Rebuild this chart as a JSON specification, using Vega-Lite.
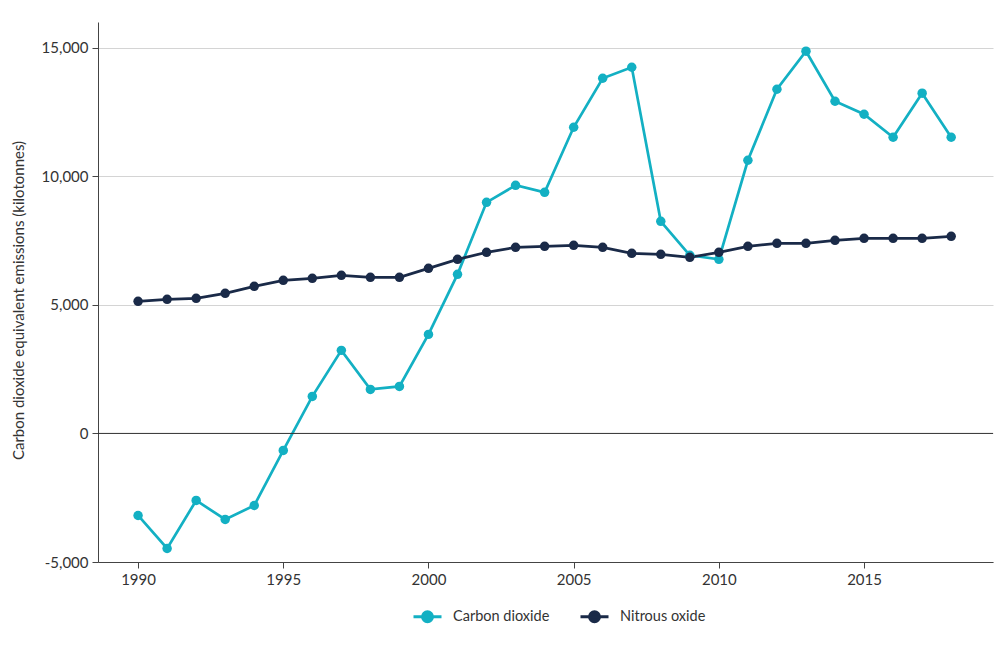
{
  "$schema": "https://vega.github.io/schema/vega-lite/v6.json",
  "width": 895,
  "height": 540,
  "autosize": {"type": "none"},
  "padding": {"left": 98, "top": 22, "right": 12, "bottom": 85},
  "background": "white",
  "config": {
    "font": "Lato",
    "view": {"stroke": null},
    "axis": {"labelFont": "Lato", "titleFont": "Lato", "labelColor": "#333", "titleColor": "#333", "labelFontSize": 15, "titleFontSize": 15, "titleFontWeight": "normal", "domainColor": "#444", "tickColor": "#444", "gridColor": "#d4d4d4"}
  },
  "datasets": {"emissions": [
    {"year": 1990, "gas": "Carbon dioxide", "value": -3191},
    {"year": 1991, "gas": "Carbon dioxide", "value": -4475},
    {"year": 1992, "gas": "Carbon dioxide", "value": -2607},
    {"year": 1993, "gas": "Carbon dioxide", "value": -3346},
    {"year": 1994, "gas": "Carbon dioxide", "value": -2802},
    {"year": 1995, "gas": "Carbon dioxide", "value": -661},
    {"year": 1996, "gas": "Carbon dioxide", "value": 1440},
    {"year": 1997, "gas": "Carbon dioxide", "value": 3230},
    {"year": 1998, "gas": "Carbon dioxide", "value": 1712},
    {"year": 1999, "gas": "Carbon dioxide", "value": 1829},
    {"year": 2000, "gas": "Carbon dioxide", "value": 3852},
    {"year": 2001, "gas": "Carbon dioxide", "value": 6187},
    {"year": 2002, "gas": "Carbon dioxide", "value": 8988},
    {"year": 2003, "gas": "Carbon dioxide", "value": 9650},
    {"year": 2004, "gas": "Carbon dioxide", "value": 9377},
    {"year": 2005, "gas": "Carbon dioxide", "value": 11907},
    {"year": 2006, "gas": "Carbon dioxide", "value": 13813},
    {"year": 2007, "gas": "Carbon dioxide", "value": 14241},
    {"year": 2008, "gas": "Carbon dioxide", "value": 8249},
    {"year": 2009, "gas": "Carbon dioxide", "value": 6926},
    {"year": 2010, "gas": "Carbon dioxide", "value": 6770},
    {"year": 2011, "gas": "Carbon dioxide", "value": 10623},
    {"year": 2012, "gas": "Carbon dioxide", "value": 13385},
    {"year": 2013, "gas": "Carbon dioxide", "value": 14864},
    {"year": 2014, "gas": "Carbon dioxide", "value": 12918},
    {"year": 2015, "gas": "Carbon dioxide", "value": 12412},
    {"year": 2016, "gas": "Carbon dioxide", "value": 11518},
    {"year": 2017, "gas": "Carbon dioxide", "value": 13230},
    {"year": 2018, "gas": "Carbon dioxide", "value": 11518},
    {"year": 1990, "gas": "Nitrous oxide", "value": 5136},
    {"year": 1991, "gas": "Nitrous oxide", "value": 5214},
    {"year": 1992, "gas": "Nitrous oxide", "value": 5253},
    {"year": 1993, "gas": "Nitrous oxide", "value": 5447},
    {"year": 1994, "gas": "Nitrous oxide", "value": 5720},
    {"year": 1995, "gas": "Nitrous oxide", "value": 5953},
    {"year": 1996, "gas": "Nitrous oxide", "value": 6031},
    {"year": 1997, "gas": "Nitrous oxide", "value": 6148},
    {"year": 1998, "gas": "Nitrous oxide", "value": 6070},
    {"year": 1999, "gas": "Nitrous oxide", "value": 6070},
    {"year": 2000, "gas": "Nitrous oxide", "value": 6420},
    {"year": 2001, "gas": "Nitrous oxide", "value": 6770},
    {"year": 2002, "gas": "Nitrous oxide", "value": 7043},
    {"year": 2003, "gas": "Nitrous oxide", "value": 7237},
    {"year": 2004, "gas": "Nitrous oxide", "value": 7276},
    {"year": 2005, "gas": "Nitrous oxide", "value": 7315},
    {"year": 2006, "gas": "Nitrous oxide", "value": 7237},
    {"year": 2007, "gas": "Nitrous oxide", "value": 7004},
    {"year": 2008, "gas": "Nitrous oxide", "value": 6965},
    {"year": 2009, "gas": "Nitrous oxide", "value": 6848},
    {"year": 2010, "gas": "Nitrous oxide", "value": 7043},
    {"year": 2011, "gas": "Nitrous oxide", "value": 7276},
    {"year": 2012, "gas": "Nitrous oxide", "value": 7393},
    {"year": 2013, "gas": "Nitrous oxide", "value": 7393},
    {"year": 2014, "gas": "Nitrous oxide", "value": 7510},
    {"year": 2015, "gas": "Nitrous oxide", "value": 7588},
    {"year": 2016, "gas": "Nitrous oxide", "value": 7588},
    {"year": 2017, "gas": "Nitrous oxide", "value": 7588},
    {"year": 2018, "gas": "Nitrous oxide", "value": 7665}
  ], "zero": [{"level": 0}]},
  "layer": [
    {
      "data": {"name": "emissions"},
      "mark": {"type": "line", "strokeWidth": 2.7},
      "encoding": {
        "x": {"field": "year", "type": "quantitative", "title": null,
          "scale": {"domain": [1988.62, 2019.44], "nice": false, "zero": false},
          "axis": {"values": [1990, 1995, 2000, 2005, 2010, 2015], "format": "d", "grid": false, "tickSize": 6, "labelPadding": 4}},
        "y": {"field": "value", "type": "quantitative", "title": "Carbon dioxide equivalent emissions (kilotonnes)",
          "scale": {"domain": [-5000, 16000], "nice": false},
          "axis": {"values": [-5000, 0, 5000, 10000, 15000], "format": ",d", "labelExpr": "replace(datum.label, '\u2212', '-')", "tickSize": 6, "labelPadding": 4, "titleX": -80, "titleY": 278, "titleBaseline": "middle", "titleAlign": "center", "titleAngle": -90}},
        "color": {"field": "gas", "type": "nominal", "title": null,
          "scale": {"domain": ["Carbon dioxide", "Nitrous oxide"], "range": ["#13b0c3", "#1a2a48"]},
          "legend": {"orient": "none", "legendX": 318, "legendY": 583, "direction": "horizontal", "labelFontSize": 14.5, "labelColor": "#333", "labelFont": "Lato",
            "symbolType": "M-1.4,0H1.4M0.5,0A0.5,0.5,0,1,1,-0.5,0A0.5,0.5,0,1,1,0.5,0Z",
            "symbolSize": 400, "symbolStrokeWidth": 3, "columnPadding": 24, "labelOffset": 14,
            "encode": {"symbols": {"update": {"fill": {"scale": "color", "field": "value"}, "stroke": {"scale": "color", "field": "value"}}}}}
        }
      }
    },
    {
      "data": {"name": "emissions"},
      "mark": {"type": "point", "filled": true, "size": 90, "opacity": 1},
      "encoding": {
        "x": {"field": "year", "type": "quantitative"},
        "y": {"field": "value", "type": "quantitative"},
        "color": {"field": "gas", "type": "nominal"}
      }
    },
    {
      "data": {"name": "zero"},
      "mark": {"type": "rule", "color": "#333", "strokeWidth": 1},
      "encoding": {"y": {"field": "level", "type": "quantitative"}}
    }
  ]
}
